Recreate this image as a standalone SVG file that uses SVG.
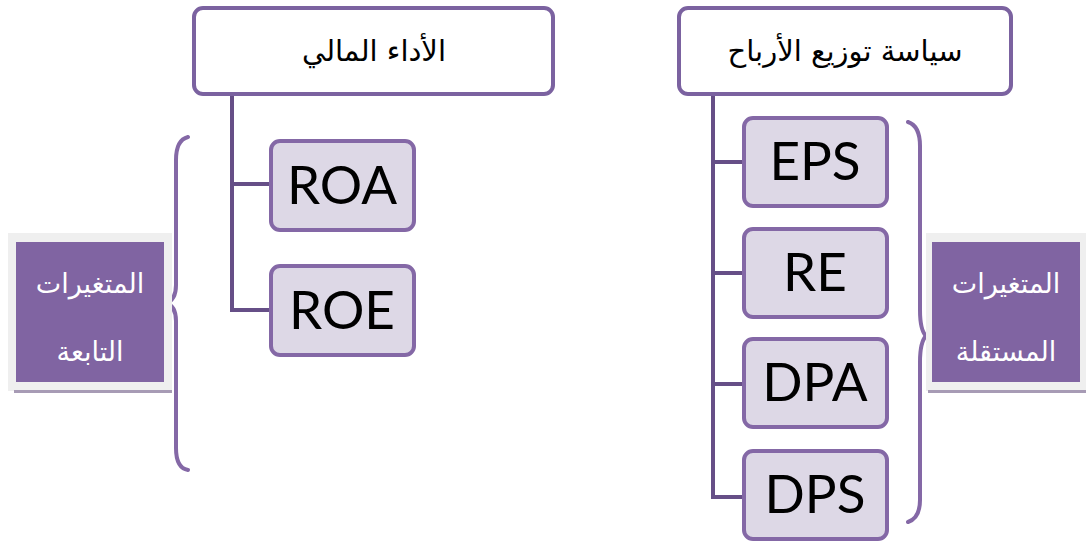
<svg xmlns="http://www.w3.org/2000/svg" width="1086" height="541" viewBox="0 0 1086 541">
<style>
.head{fill:#fff;stroke:#7b62a0;stroke-width:4}
.item{fill:#ddd8e6;stroke:#8468a6;stroke-width:4}
.conn{fill:none;stroke:#664f87;stroke-width:4}
.brace{fill:none;stroke:#8468a6;stroke-width:4;stroke-linecap:round}
.ar{font-family:"DejaVu Sans",sans-serif;font-size:29px;fill:#000;text-anchor:middle}
.lt{font-family:"DejaVu Sans",sans-serif;font-size:27px;fill:#fff;text-anchor:middle}
.en{font-family:Lato,"Open Sans",sans-serif;font-size:53px;fill:#000;text-anchor:middle}
</style>
<rect width="1086" height="541" fill="#fff"/>
<g id="connectors">
<path class="conn" d="M232 95 V310 H272 M232 184 H272"/>
<path class="conn" d="M713 95 V497 H745 M713 162 H745 M713 273 H745 M713 384 H745"/>
</g>
<g id="n-perf"><rect class="head" x="194" y="8" width="359" height="86" rx="9"/><text class="ar" x="374" y="61">الأداء المالي</text></g>
<g id="n-div"><rect class="head" x="679" y="8" width="332" height="86" rx="9"/><text class="ar" x="845" y="61">سياسة توزيع الأرباح</text></g>
<g id="n-roa"><rect class="item" x="271" y="141" width="143" height="89" rx="9"/><text class="en" x="342" y="204">ROA</text></g>
<g id="n-roe"><rect class="item" x="271" y="266" width="143" height="89" rx="9"/><text class="en" x="342" y="329">ROE</text></g>
<g id="n-eps"><rect class="item" x="744" y="118" width="143" height="88" rx="9"/><text class="en" x="815" y="180">EPS</text></g>
<g id="n-re"><rect class="item" x="744" y="229" width="143" height="88" rx="9"/><text class="en" x="815" y="291">RE</text></g>
<g id="n-dpa"><rect class="item" x="744" y="339" width="143" height="88" rx="9"/><text class="en" x="815" y="401">DPA</text></g>
<g id="n-dps"><rect class="item" x="744" y="451" width="143" height="88" rx="9"/><text class="en" x="815" y="513">DPS</text></g>
<g id="brace-left"><path class="brace" d="M188 137 Q176 140 176 160 V285 Q176 300 166 303 Q176 306 176 321 V448 Q176 468 188 470"/></g>
<g id="brace-right"><path class="brace" d="M908 122 Q920 126 920 146 V310 Q920 330 926 336 Q920 342 920 362 V500 Q920 518 908 522"/></g>
<g id="n-dep">
<rect x="8" y="233" width="164" height="158" fill="#efefef"/>
<rect x="14" y="390" width="158" height="3" fill="#a79bb5"/>
<rect x="16" y="242" width="148" height="140" fill="#8064a2"/>
<text class="lt" x="90" y="293">المتغيرات</text>
<text class="lt" x="90" y="361">التابعة</text>
</g>
<g id="n-ind">
<rect x="926" y="233" width="160" height="158" fill="#efefef"/>
<rect x="928" y="390" width="158" height="3" fill="#a79bb5"/>
<rect x="932" y="242" width="148" height="140" fill="#8064a2"/>
<text class="lt" x="1006" y="293">المتغيرات</text>
<text class="lt" x="1006" y="361">المستقلة</text>
</g>
</svg>
